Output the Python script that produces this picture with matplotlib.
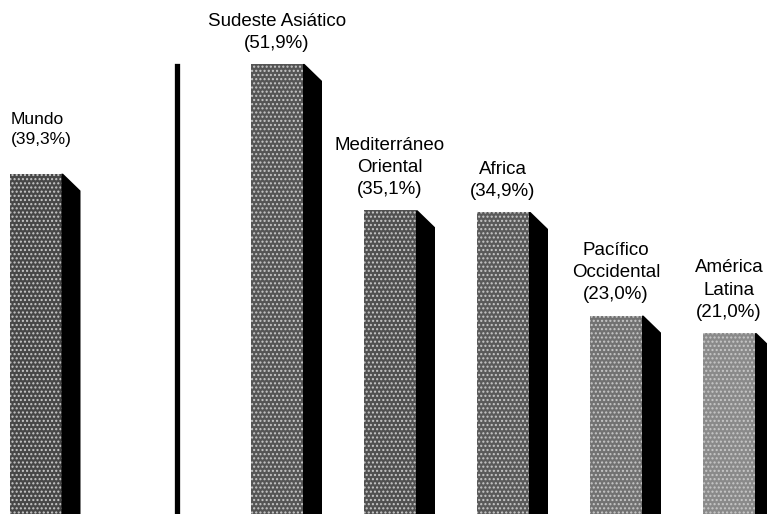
import numpy as np
import matplotlib.pyplot as plt
from matplotlib.patches import Rectangle, Polygon

plt.rcParams['font.family'] = ['Liberation Sans', 'DejaVu Sans']

# data
world_label = "Mundo\n(39,3%)"
world_value = 39.3
regions = ["Sudeste Asiático", "Mediterráneo\nOriental", "Africa",
           "Pacífico\nOccidental", "América\nLatina"]
values = [51.9, 35.1, 34.9, 23.0, 21.0]
value_labels = ["(51,9%)", "(35,1%)", "(34,9%)", "(23,0%)", "(21,0%)"]

# bar look (darker to lighter halftone)
face_colors = ["#555555", "#505050", "#5a5a5a", "#727272", "#8a8a8a"]
world_color = "#474747"

fig = plt.figure(figsize=(7.67, 5.14), dpi=100)
ax = fig.add_axes([0, 0, 1, 1])
ax.set_xlim(0, 767)
ax.set_ylim(0.23, 59.24)
ax.axis('off')

w = 52          # front face width
dx = 19         # shadow depth (x units)
dy = 1.95       # shadow bevel drop (y units)


def bar3d(xc, h, color):
    x0 = xc - w / 2
    front = Rectangle((x0, 0), w, h, facecolor=color, edgecolor="#c8c8c8",
                      linewidth=0, hatch="....", zorder=2)
    ax.add_patch(front)
    side = Polygon([(x0 + w, h), (x0 + w + 1.5, h), (x0 + w + dx, h - dy),
                    (x0 + w + dx, 0), (x0 + w, 0)],
                   closed=True, facecolor="black", edgecolor="none", zorder=3)
    ax.add_patch(side)


# world bar, left-aligned label
xw = 35.5
bar3d(xw, world_value, world_color)
ax.text(xw - w / 2 + 1, world_value + 3.1, world_label, ha='left', va='bottom',
        fontsize=12.5, linespacing=1.35, color="black")

# separator
ax.axvline(176.5, ymin=0, ymax=1 - 66 / 514, color="black", linewidth=3.8)

# regional bars
xs = 277 + 113 * np.arange(len(regions))
for x, name, v, lab, c in zip(xs, regions, values, value_labels, face_colors):
    bar3d(x, v, c)
    ax.text(x, v + 1.4, name + "\n" + lab, ha='center', va='bottom',
            fontsize=13.5, linespacing=1.4, color="black")

fig.savefig("out.png", dpi=100)
